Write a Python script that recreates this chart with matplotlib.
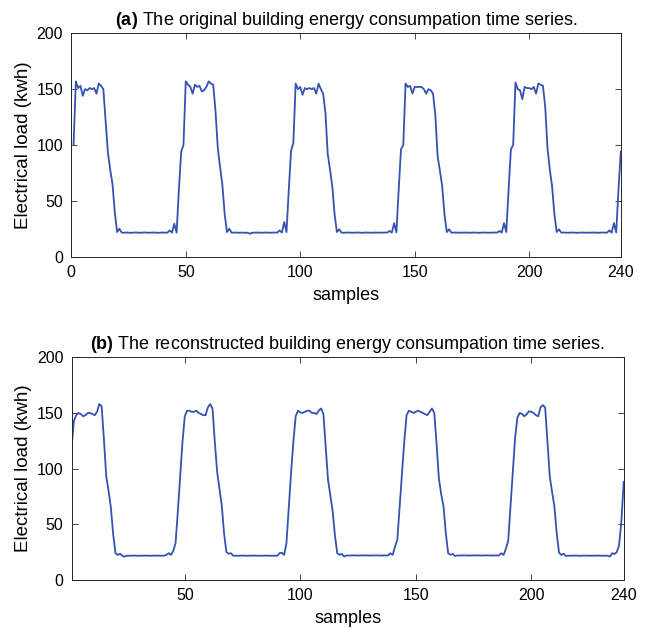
import numpy as np
import matplotlib
matplotlib.use("Agg")
import matplotlib.pyplot as plt

# =========================
# DATA
# =========================
# (a) original load, samples 1..240, one row per 48-sample day
load_original = [
    # day 1
    100, 157, 151, 153, 144, 150, 149, 151, 150, 151, 146, 155,
    153, 150, 122, 93, 78, 65, 40, 22, 25, 21.5, 21.4, 21.6,
    21.5, 21.3, 21.5, 21.6, 21.5, 21.4, 21.5, 21.7, 21.5, 21.4,
    21.5, 21.6, 21.5, 21.3, 21.5, 21.6, 21.5, 21.5, 23.5, 21.5,
    29.5, 21.5, 60, 94,
    # day 2
    100, 157, 154, 152, 146, 154, 152, 153, 148, 149, 152, 157,
    155, 154, 130, 97, 80, 64, 38, 22, 25, 21.5, 21.5, 21.6,
    21.4, 21.5, 21.5, 21.3, 21.5, 20.5, 21.4, 21.5, 21.6, 21.5,
    21.4, 21.5, 21.6, 21.5, 21.4, 21.5, 21.6, 21.5, 23.5, 21.5,
    31, 22, 60, 95,
    # day 3
    102, 155, 150, 152, 145, 151, 150, 151, 150, 151, 146, 155,
    150, 146, 129, 92, 78, 63, 38, 22, 24.5, 21.5, 21.4, 21.5,
    21.6, 21.5, 21.4, 21.5, 21.6, 21.5, 21.3, 21.5, 21.6, 21.5,
    21.4, 21.5, 21.6, 21.5, 21.5, 21.5, 21.6, 21.5, 23, 21.5,
    30, 21.7, 60, 96,
    # day 4
    100, 155, 152, 153, 146, 152, 152, 152, 152, 150, 146, 150,
    149, 146, 127, 90, 77, 63, 38, 22, 24.5, 21.5, 21.5, 21.6,
    21.4, 21.5, 21.5, 21.6, 21.5, 21.4, 21.5, 21.6, 21.5, 21.3,
    21.5, 21.6, 21.5, 21.4, 21.5, 21.5, 21.6, 21.5, 23, 21.5,
    30, 22, 60, 96,
    # day 5
    100, 156, 150, 149, 141, 152, 151, 151, 150, 152, 146, 155,
    154, 153, 134, 97, 78, 63, 38, 22, 24.5, 21.5, 21.6, 21.5,
    21.4, 21.5, 21.6, 21.5, 21.3, 21.5, 21.6, 21.5, 21.4, 21.5,
    21.5, 21.6, 21.5, 21.4, 21.5, 21.6, 21.5, 21.5, 23.5, 21.5,
    30, 21.7, 60, 94,
]

# (b) reconstructed load, samples 1..240
load_reconstructed = [
    # day 1
    119, 143, 148, 150, 149, 147, 148, 150, 150, 149, 148, 151,
    158, 156, 126, 93, 80, 65, 41, 24, 22.5, 23.5, 21.5, 21,
    21.8, 21.7, 21.8, 21.9, 21.8, 21.7, 21.8, 21.8, 21.9, 21.8,
    21.7, 21.8, 21.8, 21.9, 21.8, 21.7, 21.8, 22.5, 24, 22.5,
    26, 33, 62, 93,
    # day 2
    124, 147, 152, 152, 151, 151, 152, 150, 149, 148, 148, 155,
    158, 154, 124, 97, 82, 67, 42, 25, 23.5, 24, 21.7, 21.8,
    21.7, 21.8, 21.9, 21.8, 21.7, 21.8, 21.8, 21.9, 21.8, 21.7,
    21.8, 21.8, 21.9, 21.8, 21.7, 21.8, 21.8, 21.6, 24, 24.5,
    22.5, 33, 64, 96,
    # day 3
    124, 147, 152, 150.5, 150, 151, 152, 152, 150, 150, 149, 152,
    154, 149, 120, 90, 76, 62, 40, 24, 22.6, 23.3, 21, 22,
    21.9, 22, 22.1, 22, 21.9, 22, 22, 22.1, 22, 21.9, 22, 22,
    22.1, 22, 21.9, 22, 22, 22, 24, 22.5, 30, 36, 66, 95,
    # day 4
    124, 148, 152, 151, 150, 151, 152, 151, 150, 149, 148, 151,
    154, 150, 122, 91, 77, 66, 42, 24, 22.6, 23.3, 21.5, 22,
    21.9, 22, 22.1, 22, 21.9, 22, 22, 22.1, 22, 21.9, 22, 22,
    22.1, 22, 21.9, 22, 22, 22, 24, 22.5, 28, 35, 66, 96,
    # day 5
    128, 146, 150, 149, 147, 149, 151.5, 151, 150, 148, 147, 155,
    157, 155, 124, 93, 79, 66, 42, 24.5, 22.5, 23.5, 21.5, 21.8,
    21.7, 21.8, 21.9, 21.8, 21.7, 21.8, 21.8, 21.9, 21.8, 21.7,
    21.8, 21.8, 21.9, 21.8, 21.7, 21.8, 21.8, 21, 24, 23.3,
    25, 31, 53, 88,
]

samples = np.arange(1, len(load_original) + 1)

xticks_a = [0, 50, 100, 150, 200, 240]
xticks_b = [50, 100, 150, 200, 240]
yticks = [0, 50, 100, 150, 200]

title_a = r"$\bf{(a)}$ The original building energy consumpation time series."
title_b = r"$\bf{(b)}$ The reconstructed building energy consumpation time series."

# =========================
# STYLE
# =========================
plt.rcParams["font.family"] = ["Liberation Sans", "DejaVu Sans"]
plt.rcParams["mathtext.fontset"] = "custom"
plt.rcParams["mathtext.rm"] = "Liberation Sans"
plt.rcParams["mathtext.bf"] = "Liberation Sans:bold"

line_color = "#3352b4"
axis_color = "#262626"

fig = plt.figure(figsize=(6.48, 6.29), dpi=100)
ax_a = fig.add_axes([0.110, 0.592, 0.848, 0.355])
ax_b = fig.add_axes([0.1105, 0.078, 0.852, 0.354])


def style_axis(ax, xlim, xticks, title):
    ax.set_xlim(*xlim)
    ax.set_ylim(0, 200)
    ax.set_xticks(xticks)
    ax.set_yticks(yticks)
    ax.tick_params(direction="in", top=True, right=True, length=4,
                   width=0.6, color=axis_color, labelsize=11.5, pad=6)
    for sp in ax.spines.values():
        sp.set_color(axis_color)
        sp.set_linewidth(0.7)
    ax.set_xlabel("samples", fontsize=13, labelpad=5)
    ax.set_ylabel("Electrical load (kwh)", fontsize=13.5, labelpad=3)
    ax.set_title(title, fontsize=13, pad=6)


ax_a.plot(samples, load_original, color=line_color, lw=1.3)
style_axis(ax_a, (0, 240), xticks_a, title_a)

ax_b.plot(samples, load_reconstructed, color=line_color, lw=1.3)
style_axis(ax_b, (1, 240), xticks_b, title_b)

fig.savefig("out.png", dpi=100)
